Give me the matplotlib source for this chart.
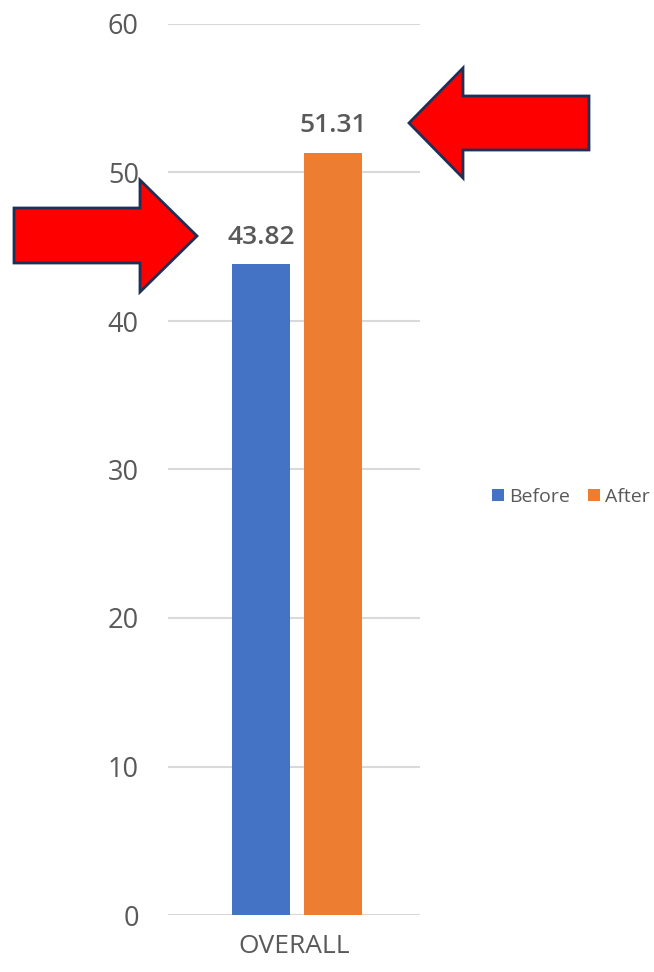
import matplotlib
matplotlib.use("Agg")
import matplotlib.pyplot as plt
from matplotlib.patches import Polygon

categories = ["OVERALL"]
series_names = ["Before", "After"]
before_values = [43.82]
after_values = [51.31]
y_ticks = [0, 10, 20, 30, 40, 50, 60]

colors = {"Before": "#4472C4", "After": "#ED7D31"}
text_color = "#595959"

plt.rcParams['font.family'] = ['Open Sans', 'DejaVu Sans']

W, H = 654, 972
fig = plt.figure(figsize=(W / 100, H / 100), dpi=100)
ax = fig.add_axes([168 / W, 1 - 915 / H, (420 - 168) / W, (915 - 24) / H])

x = list(range(len(categories)))
width = 0.23
off_b = -0.13
off_a = 0.155
bars_b = ax.bar([xi + off_b for xi in x], before_values, width=width,
                color=colors["Before"], label="Before", zorder=3)
bars_a = ax.bar([xi + off_a for xi in x], after_values, width=width,
                color=colors["After"], label="After", zorder=3)

for bars, vals in ((bars_b, before_values), (bars_a, after_values)):
    for b, v in zip(bars, vals):
        ax.annotate(f"{v:.2f}", (b.get_x() + b.get_width() / 2, v),
                    xytext=(0, 10.5), textcoords="offset points",
                    ha="center", va="bottom", fontsize=19,
                    color=text_color, fontweight="semibold")

ax.set_xlim(-0.5, 0.5)
ax.set_ylim(0, 60)
ax.set_yticks(y_ticks)
ax.set_xticks(x)
ax.set_xticklabels(categories)
ax.tick_params(axis="y", length=0, pad=21, labelsize=19.5, labelcolor=text_color)
ax.tick_params(axis="x", length=0, pad=14, labelsize=19, labelcolor=text_color)
ax.yaxis.grid(True, color="#D9D9D9", linewidth=1.5, zorder=0)
for s in ax.spines.values():
    s.set_visible(False)

fig.legend(handles=[bars_b, bars_a], labels=series_names, loc="center left",
           bbox_to_anchor=(492 / W, 1 - 497 / H), ncol=2, frameon=False,
           borderpad=0, borderaxespad=0,
           fontsize=14, labelcolor=text_color, handlelength=0.6,
           handleheight=0.6, handletextpad=0.3, columnspacing=0.9)

# decorative red arrows (figure pixel coordinates, y measured from top)
left_arrow = [(14, 208), (140, 208), (140, 180), (197, 236),
              (140, 292), (140, 263), (14, 263)]
right_arrow = [(589, 96), (463, 96), (463, 68), (409, 123),
               (463, 178), (463, 150), (589, 150)]
for pts in (left_arrow, right_arrow):
    poly = Polygon([(px / W, 1 - py / H) for px, py in pts], closed=True,
                   transform=fig.transFigure, facecolor="#FF0000",
                   edgecolor="#1F3057", linewidth=2, joinstyle="miter")
    fig.patches.append(poly)

fig.savefig("out.png", dpi=100)
